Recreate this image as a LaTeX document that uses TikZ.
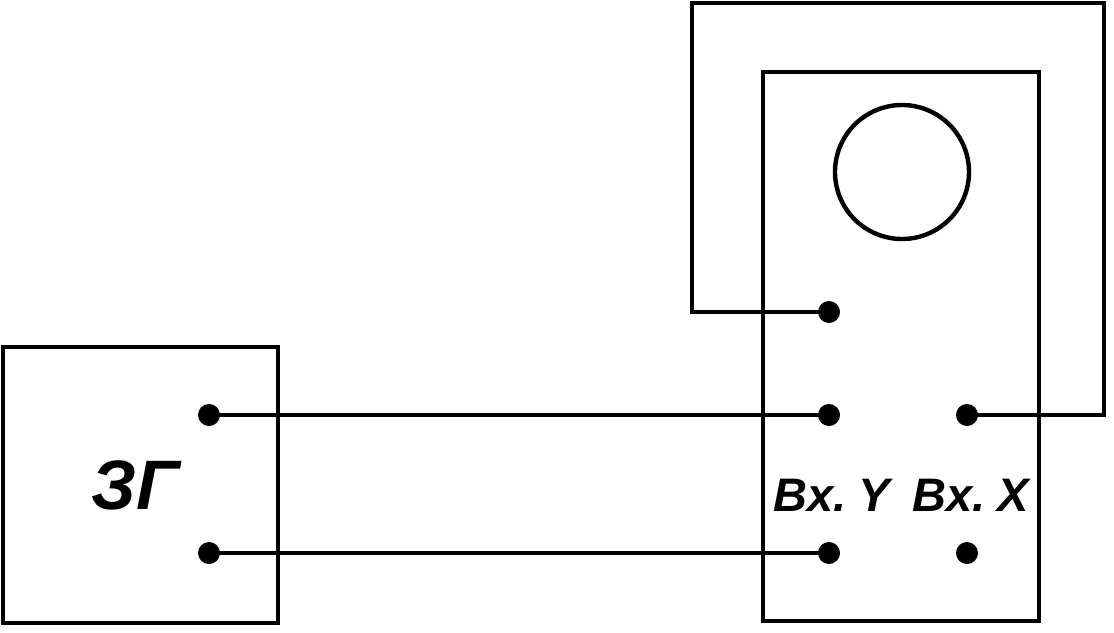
\documentclass[tikz,border=0pt]{standalone}
\usepackage{fontspec}
\setmainfont{Liberation Sans}
\begin{document}
\begin{tikzpicture}[x=0.5pt, y=-0.5pt, line width=2.2pt,
  klemma/.style={circle, fill, inner sep=0pt, minimum size=11pt},
  nadpis/.style={font=\bfseries\itshape\fontsize{23.5}{23.5}\selectfont}]
\useasboundingbox (0,0) rectangle (1114,632);
% generator
\draw (3,347) rectangle (278,623);
\node[font=\bfseries\itshape\fontsize{35}{35}\selectfont] (zg) at (135,485) {ЗГ};
\node[klemma] (g1) at (209,415) {};
\node[klemma] (g2) at (209,553) {};
% oscilloscope
\draw (763,72) rectangle (1039,621);
\draw (902,172) circle (67);
\node[klemma] (s0) at (829,312) {};
\node[klemma] (y1) at (829,415) {};
\node[klemma] (y2) at (829,553) {};
\node[klemma] (x1) at (967,415) {};
\node[klemma] (x2) at (967,553) {};
\node[nadpis] (vy) at (832,495) {Вх.\hspace{0.26em}Y};
\node[nadpis] (vx) at (971,495) {Вх.\hspace{0.26em}X};
% wires
\coordinate (pr) at (1104,3);
\coordinate (lv) at (692,3);
\draw (g1.center) -- (y1.center);
\draw (g2.center) -- (y2.center);
\draw[line join=miter] (x1.center) -- (x1 -| pr) -- (pr) -- (lv) -- (lv |- s0) -- (s0.center);
\end{tikzpicture}
\end{document}
